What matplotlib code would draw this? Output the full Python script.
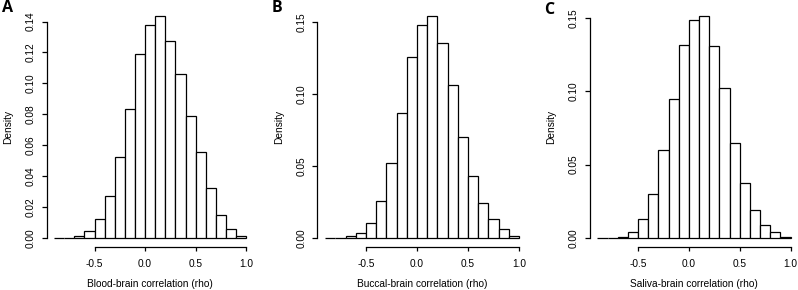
import matplotlib
matplotlib.use("Agg")
import matplotlib.pyplot as plt
import numpy as np

plt.rcParams['font.family'] = ['Liberation Sans', 'DejaVu Sans']

bin_edges = [-0.9, -0.8, -0.7, -0.6, -0.5, -0.4, -0.3, -0.2, -0.1, 0.0,
             0.1, 0.2, 0.3, 0.4, 0.5, 0.6, 0.7, 0.8, 0.9, 1.0]

blood_density = [0.0, 0.0, 0.0010, 0.0043, 0.0119, 0.0270, 0.0526, 0.0833, 0.1189,
                 0.1380, 0.1437, 0.1273, 0.1059, 0.0790, 0.0557, 0.0324, 0.0149,
                 0.0054, 0.0013]
buccal_density = [0.0, 0.0, 0.0012, 0.0037, 0.0100, 0.0255, 0.0522, 0.0869, 0.1256,
                  0.1480, 0.1544, 0.1352, 0.1066, 0.0698, 0.0427, 0.0241, 0.0132,
                  0.0060, 0.0012]
saliva_density = [0.0, 0.0, 0.0009, 0.0041, 0.0130, 0.0302, 0.0600, 0.0948, 0.1316,
                  0.1489, 0.1514, 0.1307, 0.1023, 0.0650, 0.0373, 0.0191, 0.0089,
                  0.0039, 0.0009]

panel_letters = ["A", "B", "C"]
x_labels = ["Blood-brain correlation (rho)", "Buccal-brain correlation (rho)",
            "Saliva-brain correlation (rho)"]
y_label = "Density"
x_ticks = [-0.5, 0.0, 0.5, 1.0]
x_tick_labels = ["-0.5", "0.0", "0.5", "1.0"]
y_ticks_A = [0.00, 0.02, 0.04, 0.06, 0.08, 0.10, 0.12, 0.14]
y_tick_labels_A = ["0.00", "0.02", "0.04", "0.06", "0.08", "0.10", "0.12", "0.14"]
y_ticks_BC = [0.00, 0.05, 0.10, 0.15]
y_tick_labels_BC = ["0.00", "0.05", "0.10", "0.15"]

W, H = 798, 290
fig = plt.figure(figsize=(W / 100, H / 100), dpi=100)

# pixel layout: (left px, width px)
layouts = [(46.5, 207.3), (317.4, 209.3), (589.7, 208.7)]
bottom_px = 246.7
top_px = 7.0
letter_pos = [(1.5, 8.5), (271.5, 8.5), (544.5, 9.5)]

datasets = [blood_density, buccal_density, saliva_density]
yticks_all = [(y_ticks_A, y_tick_labels_A), (y_ticks_BC, y_tick_labels_BC),
              (y_ticks_BC, y_tick_labels_BC)]

fs = 7.3
for i in range(3):
    lpx, wpx = layouts[i]
    ax = fig.add_axes([lpx / W, (H - bottom_px) / H, wpx / W, (bottom_px - top_px) / H])
    dens = np.array(datasets[i])
    edges = np.array(bin_edges)
    ax.bar(edges[:-1], dens, width=np.diff(edges), align='edge',
           facecolor='white', edgecolor='black', linewidth=0.9)
    ymax = dens.max()
    ax.set_xlim(-0.976, 1.076)
    ax.set_ylim(-0.04 * ymax, 1.04 * ymax)
    yt, ytl = yticks_all[i]
    ax.set_xticks(x_ticks)
    ax.set_xticklabels(x_tick_labels, fontsize=fs)
    ax.set_yticks(yt)
    ax.set_yticklabels(ytl, fontsize=fs, rotation=90, va='center')
    for s in ['top', 'right']:
        ax.spines[s].set_visible(False)
    ax.spines['left'].set_bounds(yt[0], yt[-1])
    ax.spines['bottom'].set_bounds(x_ticks[0], x_ticks[-1])
    ax.spines['left'].set_linewidth(0.9)
    ax.spines['bottom'].set_linewidth(0.9)
    ax.tick_params(axis='x', length=3.0, width=0.9, pad=6.0)
    ax.tick_params(axis='y', length=3.5, width=0.9, pad=4.5)
    ax.set_xlabel(x_labels[i], fontsize=fs, labelpad=7)
    ax.set_ylabel(y_label, fontsize=fs, labelpad=9)
    lx, ly = letter_pos[i]
    fig.text(lx / W, 1 - ly / H, panel_letters[i], fontsize=11.5, fontweight='bold',
             ha='left', va='center', family=['Open Sans', 'DejaVu Sans'])

fig.savefig("out.png", dpi=100)
